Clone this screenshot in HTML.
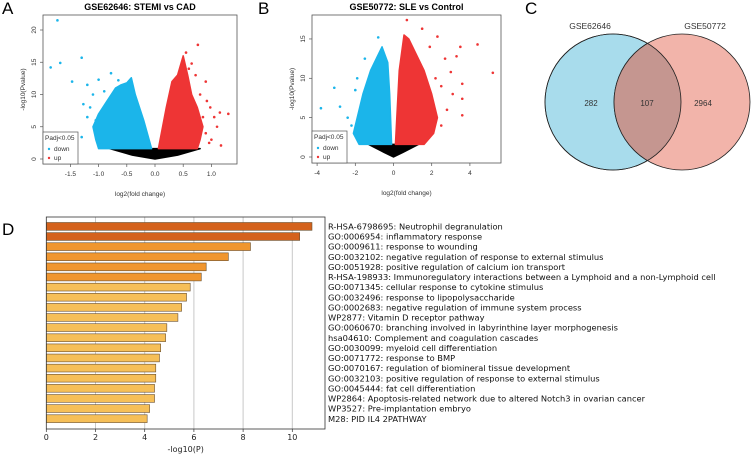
<!DOCTYPE html>
<html><head><meta charset="utf-8">
<style>
html,body{margin:0;padding:0;background:#fff;}
svg{display:block;font-family:"Liberation Sans",sans-serif;}
</style></head>
<body>
<svg id="fig" width="753" height="456" viewBox="0 0 753 456" xmlns="http://www.w3.org/2000/svg">
<text x="2" y="14" font-size="17">A</text>
<text x="258" y="14" font-size="17">B</text>
<text x="525" y="14" font-size="17">C</text>
<text x="2" y="235" font-size="17">D</text>
<g id="A"></g><g id="B"></g><g id="C"></g><g id="D"></g>
</svg>
<script>
// ---------- data ----------
const aXTicks=[-1.5,-1.0,-0.5,0.0,0.5,1.0];
const aYTicks=[0,5,10,15,20];
const aDownShape=[[-0.06,1.6],[-0.2,6],[-0.35,10],[-0.42,12.6],[-0.5,11.8],[-0.6,11.5],[-0.7,11],[-0.85,9],[-1.0,7],[-1.1,5],[-1.05,3],[-1.0,1.6]];
const aUpShape=[[0.06,1.6],[0.2,8],[0.3,12],[0.4,13],[0.5,16],[0.58,13],[0.65,10],[0.75,8],[0.85,5],[0.8,3],[0.75,1.6]];
const aNsShape=[[-0.8,1.6],[-0.4,0.6],[0,0],[0.4,0.6],[0.8,1.6]];
const aDownPts=[[-1.73,21.5],[-1.85,14.2],[-1.68,14.9],[-1.3,15.7],[-1.47,12],[-0.78,13.3],[-1.2,11.5],[-1.0,12.3],[-1.27,8.5],[-1.3,3.4],[-0.95,2.3],[-1.1,10],[-1.15,8],[-0.9,10.5],[-0.65,12.2],[-1.05,6],[-1.2,6.5]];
const aUpPts=[[0.76,17.7],[0.55,16.5],[0.65,14.8],[0.72,13],[0.9,12],[1.3,7],[1.15,7.2],[0.98,8],[1.1,5],[1.0,3],[0.96,2.5],[1.17,2.1],[0.9,4],[0.85,6.5],[0.8,10],[0.92,9],[0.6,14],[1.05,6.5]];
const bXTicks=[-4,-2,0,2,4];
const bYTicks=[0,5,10,15];
const bDownShape=[[-0.1,1.6],[-0.2,8],[-0.3,12],[-0.6,14],[-0.9,12.5],[-1.2,11],[-1.6,8],[-1.9,5],[-2.1,3],[-1.8,1.6]];
const bUpShape=[[0.1,1.6],[0.3,11],[0.55,15.5],[0.8,15],[1.2,13],[1.6,11],[2.0,8],[2.3,5],[2.1,3],[1.6,1.6]];
const bNsShape=[[-1.3,1.6],[-0.5,0.6],[0,0],[0.5,0.6],[1.3,1.6]];
const bDownPts=[[-3.8,6.2],[-3.1,8.8],[-2.8,6.4],[-0.8,15.2],[-2.2,4],[-1.9,10],[-2.4,5],[-2.0,8.5],[-1.5,12.5]];
const bUpPts=[[0.7,17.4],[1.5,16.3],[2.3,15.3],[4.4,14.3],[3.5,14],[5.2,10.7],[3.6,9.3],[3.3,12.8],[3.6,5.3],[3.6,7.4],[2.8,6],[3.0,10.8],[2.5,9],[2.7,12.5],[2.2,10],[1.9,14],[3.1,8],[2.5,4]];
const vennLabels=["GSE62646","GSE50772"];
const vennCounts=[282,107,2964];
const dTerms=["R-HSA-6798695: Neutrophil degranulation","GO:0006954: inflammatory response","GO:0009611: response to wounding","GO:0032102: negative regulation of response to external stimulus","GO:0051928: positive regulation of calcium ion transport","R-HSA-198933: Immunoregulatory interactions between a Lymphoid and a non-Lymphoid cell","GO:0071345: cellular response to cytokine stimulus","GO:0032496: response to lipopolysaccharide","GO:0002683: negative regulation of immune system process","WP2877: Vitamin D receptor pathway","GO:0060670: branching involved in labyrinthine layer morphogenesis","hsa04610: Complement and coagulation cascades","GO:0030099: myeloid cell differentiation","GO:0071772: response to BMP","GO:0070167: regulation of biomineral tissue development","GO:0032103: positive regulation of response to external stimulus","GO:0045444: fat cell differentiation","WP2864: Apoptosis-related network due to altered Notch3 in ovarian cancer","WP3527: Pre-implantation embryo","M28: PID IL4 2PATHWAY"];
const dValues=[10.8,10.3,8.3,7.4,6.5,6.3,5.85,5.7,5.5,5.35,4.9,4.85,4.65,4.6,4.45,4.45,4.4,4.4,4.2,4.1];
const dXTicks=[0,2,4,6,8,10];

const NS="http://www.w3.org/2000/svg";
function mk(parent,tag,attrs,text){const e=document.createElementNS(NS,tag);for(const k in attrs)e.setAttribute(k,attrs[k]);if(text!==undefined)e.textContent=text;parent.appendChild(e);return e;}

function volcano(gid,cfg){
  const g=document.getElementById(gid);
  const X=v=>cfg.x0+v*cfg.xs, Y=v=>cfg.y0-v*cfg.ys;
  let e=mk(g,'text',{x:(cfg.bx1+cfg.bx2)/2,y:10,'font-size':9,'font-weight':'bold','text-anchor':'middle'},cfg.title);
  
  const poly=(shape,col,name)=>{const p=mk(g,'polygon',{points:shape.map(q=>X(q[0])+','+Y(q[1])).join(' '),fill:col,stroke:col,'stroke-width':1.5,'stroke-linejoin':'round'});
    };
  poly(cfg.ns,'#000','not-significant-cloud');
  poly(cfg.down,'#1bb5ea','down-cloud');
  poly(cfg.up,'#ee3535','up-cloud');
  cfg.dp.forEach(q=>{const c=mk(g,'circle',{cx:X(q[0]),cy:Y(q[1]),r:1.3,fill:'#1bb5ea'});});
  cfg.upp.forEach(q=>{const c=mk(g,'circle',{cx:X(q[0]),cy:Y(q[1]),r:1.3,fill:'#ee3535'});});
  e=mk(g,'rect',{x:cfg.bx1,y:cfg.by1,width:cfg.bx2-cfg.bx1,height:cfg.by2-cfg.by1,fill:'none',stroke:'#555','stroke-width':0.8});
  
  cfg.xt.forEach(t=>{mk(g,'line',{x1:X(t),x2:X(t),y1:cfg.by2,y2:cfg.by2+3,stroke:'#555','stroke-width':0.7});
    const l=mk(g,'text',{x:X(t),y:cfg.by2+12,'font-size':6.5,'text-anchor':'middle',fill:'#333'},cfg.xfmt(t));
    });
  cfg.yt.forEach(t=>{mk(g,'line',{x1:cfg.bx1-3,x2:cfg.bx1,y1:Y(t),y2:Y(t),stroke:'#555','stroke-width':0.7});
    const l=mk(g,'text',{x:cfg.bx1-7,y:Y(t),'font-size':6.5,'text-anchor':'middle',fill:'#333',transform:`rotate(-90 ${cfg.bx1-7} ${Y(t)})`},String(t));
    });
  e=mk(g,'text',{x:(cfg.bx1+cfg.bx2)/2,y:cfg.by2+32,'font-size':6.5,'text-anchor':'middle',fill:'#333'},'log2(fold change)');
  
  const yc=(cfg.by1+cfg.by2)/2;
  e=mk(g,'text',{x:cfg.bx1-18,y:yc,'font-size':6.5,'text-anchor':'middle',fill:'#333',transform:`rotate(-90 ${cfg.bx1-18} ${yc})`},'-log10(Pvalue)');
  
  const lg=mk(g,'g',{});
  mk(lg,'rect',{x:cfg.bx1,y:cfg.by2-32,width:35,height:32,fill:'#fff',stroke:'#555','stroke-width':0.7});
  mk(lg,'text',{x:cfg.bx1+2,y:cfg.by2-24,'font-size':6.5,fill:'#333'},'Padj<0.05');
  mk(lg,'circle',{cx:cfg.bx1+6,cy:cfg.by2-15,r:1.2,fill:'#1bb5ea'});
  mk(lg,'text',{x:cfg.bx1+11,y:cfg.by2-13,'font-size':6.5,fill:'#333'},'down');
  mk(lg,'circle',{cx:cfg.bx1+6,cy:cfg.by2-6,r:1.2,fill:'#ee3535'});
  mk(lg,'text',{x:cfg.bx1+11,y:cfg.by2-4,'font-size':6.5,fill:'#333'},'up');
}
volcano('A',{title:'GSE62646: STEMI vs CAD',x0:155,xs:56.4,y0:159,ys:6.45,bx1:43,bx2:237,by1:15,by2:164,
  down:aDownShape,up:aUpShape,ns:aNsShape,dp:aDownPts,upp:aUpPts,xt:aXTicks,yt:aYTicks,xfmt:t=>t.toFixed(1)});
volcano('B',{title:'GSE50772: SLE vs Control',x0:393.5,xs:19.1,y0:157,ys:7.87,bx1:312,bx2:501,by1:15,by2:163,
  down:bDownShape,up:bUpShape,ns:bNsShape,dp:bDownPts,upp:bUpPts,xt:bXTicks,yt:bYTicks,xfmt:t=>String(t)});

// Venn
(function(){
  const g=document.getElementById('C');
  let e=mk(g,'circle',{cx:613,cy:102,r:68,fill:'#a8dcec',stroke:'#222','stroke-width':0.8});
  
  e=mk(g,'circle',{cx:682,cy:102,r:68,fill:'#f0a79b','fill-opacity':0.85,stroke:'#222','stroke-width':0.8});
  
  mk(g,'clipPath',{id:'cl'}).appendChild(document.createElementNS(NS,'circle'));
  const cc=g.querySelector('#cl circle');cc.setAttribute('cx',613);cc.setAttribute('cy',102);cc.setAttribute('r',68);
  e=mk(g,'circle',{cx:682,cy:102,r:68,fill:'#c59690','clip-path':'url(#cl)',stroke:'#222','stroke-width':0.8});
  
  mk(g,'circle',{cx:613,cy:102,r:68,fill:'none',stroke:'#222','stroke-width':0.8});
  [[590,vennLabels[0]],[705,vennLabels[1]]].forEach(p=>{const t=mk(g,'text',{x:p[0],y:29,'font-size':8.5,'text-anchor':'middle',fill:'#333'},p[1]);});
  [[591,vennCounts[0]],[647,vennCounts[1]],[703,vennCounts[2]]].forEach(p=>{const t=mk(g,'text',{x:p[0],y:106,'font-size':8,'text-anchor':'middle',fill:'#333'},String(p[1]));});
})();

// Bar chart D
(function(){
  const g=document.getElementById('D');
  const L=46.3,R=325,T=217,B=429,xs=24.6,X=v=>L+v*xs;
  const step=10.12,top0=222.5,bh=7.8;
  dXTicks.forEach(t=>{if(t>0){const l=mk(g,'line',{x1:X(t),x2:X(t),y1:T,y2:B,stroke:'#c8c8c8','stroke-width':1});}});
  dValues.forEach((v,i)=>{
    const col=i<2?'#d4621c':(i<6?'#f0962f':'#f6bf58');
    const r=mk(g,'rect',{x:L,y:top0+i*step,width:v*xs,height:bh,fill:col,stroke:'#6a5030','stroke-width':0.6});
    
    const t=mk(g,'text',{x:328,y:top0+i*step+7,'font-size':8.3,fill:'#111','font-family':'"DejaVu Sans",sans-serif'},dTerms[i]);
    
  });
  const f=mk(g,'rect',{x:L,y:T,width:R-L,height:B-T,fill:'none',stroke:'#333','stroke-width':0.8});
  
  dXTicks.forEach(t=>{mk(g,'line',{x1:X(t),x2:X(t),y1:B,y2:B+3,stroke:'#333','stroke-width':0.7});
    const l=mk(g,'text',{x:X(t),y:B+11,'font-size':8,'text-anchor':'middle',fill:'#222','font-family':'"DejaVu Sans",sans-serif'},String(t));
    });
  const a=mk(g,'text',{x:(L+R)/2,y:452,'font-size':8,'text-anchor':'middle',fill:'#222','font-family':'"DejaVu Sans",sans-serif'},'-log10(P)');
  
})();
</script>
</body></html>
